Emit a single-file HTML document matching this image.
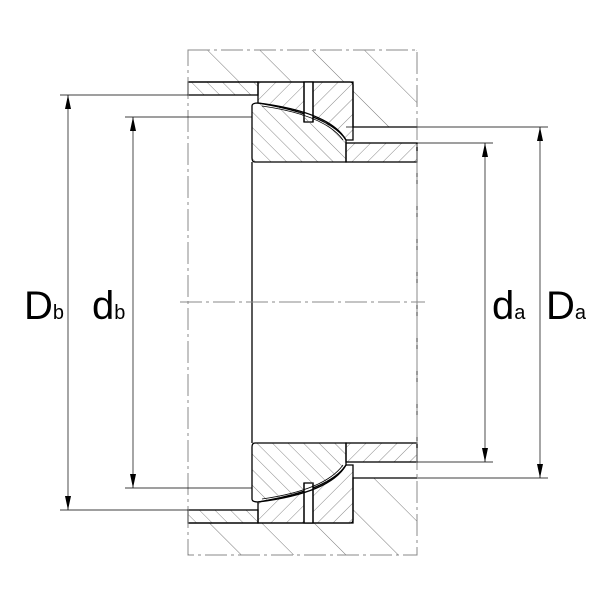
<!DOCTYPE html>
<html><head><meta charset="utf-8"><style>body{margin:0;background:#fff}svg{display:block}</style></head><body>
<svg width="605" height="605" viewBox="0 0 605 605" xmlns="http://www.w3.org/2000/svg">
<defs>
<pattern id="hb" patternUnits="userSpaceOnUse" width="37" height="37" patternTransform="rotate(-45)">
<line x1="0" y1="0" x2="0" y2="37" stroke="#555" stroke-width="0.8"/></pattern>
<pattern id="fb" patternUnits="userSpaceOnUse" width="11" height="11" patternTransform="rotate(-45)">
<line x1="0" y1="0" x2="0" y2="11" stroke="#555" stroke-width="0.7"/></pattern>
<pattern id="ff" patternUnits="userSpaceOnUse" width="11" height="11" patternTransform="rotate(45)">
<line x1="0" y1="0" x2="0" y2="11" stroke="#555" stroke-width="0.7"/></pattern>
</defs>
<g stroke="#000" stroke-width="1.3">
<rect x="188" y="50" width="229" height="32" fill="url(#hb)" stroke="none"/>
<rect x="353" y="82" width="64" height="45" fill="url(#hb)" stroke="none"/>
<path d="M188 82 H353 V127 H417" fill="none"/>
<rect x="188" y="82" width="70" height="13" fill="url(#fb)"/>
<path d="M258 82 H350 Q353 82 353 85 V140 H346 Q330 115 258 103 Z" fill="url(#ff)"/>
<rect x="304" y="82" width="9" height="40" fill="#fff"/>
<path d="M304 82 V122 M313 82 V122" fill="none"/>
<path d="M258 103 Q330 112 346 140 V162 H255 Q252 162 252 158 V106 Q252 103 258 103 Z" fill="url(#fb)"/>
<path d="M262 106 Q325 115 343 140" fill="none" stroke-width="0.8"/>
<rect x="346" y="143" width="71" height="19" fill="url(#ff)"/>
<rect x="188" y="523" width="229" height="32" fill="url(#hb)" stroke="none"/>
<rect x="353" y="478" width="64" height="45" fill="url(#hb)" stroke="none"/>
<path d="M188 523 H353 V478 H417" fill="none"/>
<rect x="188" y="510" width="70" height="13" fill="url(#fb)"/>
<path d="M258 523 H350 Q353 523 353 520 V465 H346 Q330 490 258 502 Z" fill="url(#ff)"/>
<rect x="304" y="483" width="9" height="40" fill="#fff"/>
<path d="M304 483 V523 M313 483 V523" fill="none"/>
<path d="M258 502 Q330 493 346 465 V443 H255 Q252 443 252 447 V499 Q252 502 258 502 Z" fill="url(#fb)"/>
<path d="M262 499 Q325 490 343 465" fill="none" stroke-width="0.8"/>
<rect x="346" y="443" width="71" height="19" fill="url(#ff)"/>
<line x1="252" y1="162" x2="252" y2="443"/>
<line x1="417" y1="162" x2="417" y2="443" stroke-width="0.8"/>
</g>
<g stroke="#888" stroke-width="1" stroke-dasharray="22,4,3,4" fill="none">
<rect x="188" y="50" width="229" height="505"/>
<line x1="180" y1="302" x2="425" y2="302"/>
</g>
<g stroke="#000" stroke-width="0.7" fill="none">
<path d="M60 95 H188 M125 117 H252 M346 127 H548 M417 143 H493 M417 462 H493 M417 478 H548 M125 488 H252 M60 510 H188"/>
<path d="M68 95 V510 M133 117 V488 M485 143 V462 M540 127 V478"/>
</g>
<g fill="#000">
<path d="M68 95 l-3 14 h6z M68 510 l-3 -14 h6z M133 117 l-3 14 h6z M133 488 l-3 -14 h6z M485 143 l-3 14 h6z M485 462 l-3 -14 h6z M540 127 l-3 14 h6z M540 478 l-3 -14 h6z"/>
</g>
<g font-family="Liberation Sans, sans-serif" fill="#000">
<text x="24" y="319" font-size="40">D<tspan font-size="20">b</tspan></text>
<text x="92" y="319" font-size="40">d<tspan font-size="20">b</tspan></text>
<text x="492" y="319" font-size="40">d<tspan font-size="20">a</tspan></text>
<text x="546" y="319" font-size="40">D<tspan font-size="20">a</tspan></text>
</g>
</svg>
</body></html>
